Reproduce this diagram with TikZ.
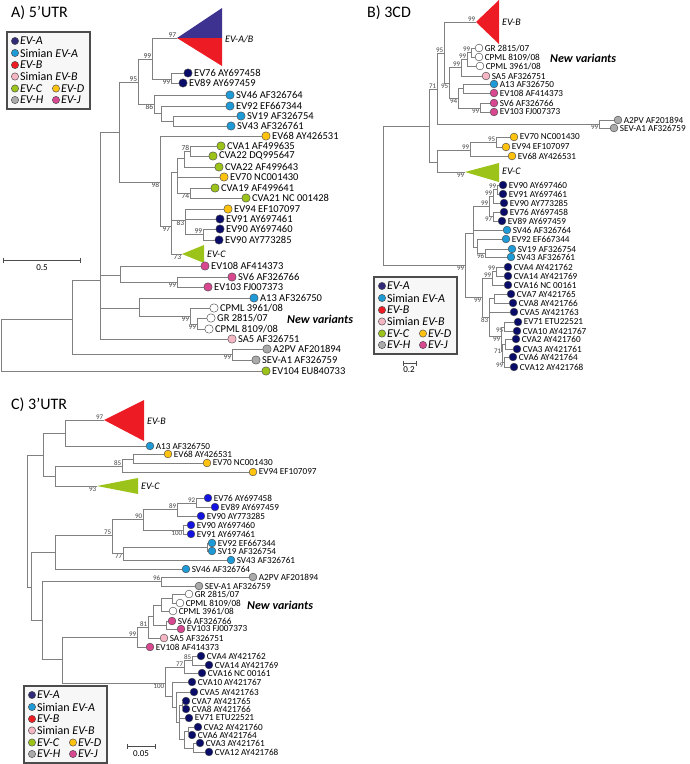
\documentclass[tikz,border=0pt]{standalone}
\usepackage{fontspec}
\setmainfont{Carlito}
\usetikzlibrary{positioning}
\definecolor{brgrey}{RGB}{128,128,128}
\definecolor{evA}{RGB}{10,12,105}
\definecolor{evAb}{RGB}{20,20,225}
\definecolor{evAleg}{RGB}{48,42,120}
\definecolor{triA}{RGB}{62,50,145}
\definecolor{sevA}{RGB}{30,155,215}
\definecolor{evB}{RGB}{237,28,36}
\definecolor{sevB}{RGB}{245,182,196}
\definecolor{evC}{RGB}{155,195,25}
\definecolor{evD}{RGB}{255,195,15}
\definecolor{evH}{RGB}{170,170,170}
\definecolor{evJ}{RGB}{215,72,145}
\tikzset{
  br/.style={draw=brgrey, line width=0.9pt},
  lfA/.style={circle, draw=black!70, line width=0.45pt, fill=#1, minimum size=8.4pt, inner sep=0pt},
  lfB/.style={circle, draw=black!70, line width=0.45pt, fill=#1, minimum size=7.8pt, inner sep=0pt},
  lbA/.style={font=\fontsize{10.5}{12}\selectfont, inner sep=1.5pt},
  lbB/.style={font=\fontsize{9.2}{11}\selectfont, inner sep=1.5pt},
  bsA/.style={font=\fontsize{7.5}{8}\selectfont, inner sep=0.6pt, text=black!75},
  bsB/.style={font=\fontsize{7}{8}\selectfont, inner sep=0.6pt, text=black!75},
  clade/.style={font=\fontsize{10}{12}\selectfont\itshape, anchor=west, inner sep=1pt},
  ttl/.style={font=\fontsize{16}{18}\selectfont, anchor=west, inner sep=0pt},
  newvar/.style={font=\fontsize{12}{14}\selectfont\bfseries\itshape, anchor=west, inner sep=0pt},
  legbox/.style={draw=black!70, fill=black!3, line width=1.1pt},
  lgc/.style={circle, draw=black!70, line width=0.45pt, fill=#1, minimum size=7.3pt, inner sep=0pt},
  lgt/.style={font=\fontsize{12}{14}\selectfont, inner sep=1pt},
  sbar/.style={draw=black!70, line width=0.8pt},
  sbtext/.style={font=\fontsize{9}{10}\selectfont, inner sep=0pt}
}
% legend box: prefix, first circle x, y
\newcommand{\drawlegend}[3]{%
  \begin{scope}[shift={(#2,#3)}]
    \draw[legbox] (-8,-9) rectangle (75,68);
    \node[lgc=evAleg, label={[lgt]right:\textit{EV-A}}] (#1a) at (0,0) {};
    \node[lgc=sevA, label={[lgt]right:Simian \textit{EV-A}}] (#1b) at (0,12) {};
    \node[lgc=evB, label={[lgt]right:\textit{EV-B}}] (#1c) at (0,24) {};
    \node[lgc=sevB, label={[lgt]right:Simian \textit{EV-B}}] (#1d) at (0,35.5) {};
    \node[lgc=evC, label={[lgt]right:\textit{EV-C}}] (#1e) at (0,47.5) {};
    \node[lgc=evD, label={[lgt]right:\textit{EV-D}}] (#1f) at (41,47.5) {};
    \node[lgc=evH, label={[lgt]right:\textit{EV-H}}] (#1g) at (0,59) {};
    \node[lgc=evJ, label={[lgt]right:\textit{EV-J}}] (#1h) at (41,59) {};
  \end{scope}}

\begin{document}
\begin{tikzpicture}[x=1pt, y=-1pt]
  \useasboundingbox (0,0) rectangle (690,764);

  % ---------------- A) 5'UTR ----------------
  \node[ttl] (tA) at (11,13) {A) 5’UTR};
  \drawlegend{lgA}{15}{41}

  % clades collapsed
  \coordinate[label={[bsA]above left:97}] (aTA) at (177,38);
  \fill[triA] (aTA) -- (222,8) -- (222,38) -- cycle;
  \fill[evB] (aTA) -- (222,38) -- (222,66) -- cycle;
  \node[clade] (aTAl) at (224,39) {EV-A/B};
  \coordinate[label={[bsA]below left:73}] (aTC) at (182,254);
  \fill[evC] (aTC) -- (204,245) -- (204,263) -- cycle;
  \node[clade] (aTCl) at (206,254) {EV-C};

  % leaves
  \node[lfA=evA, label={[lbA]right:EV76 AY697458}] (aev76) at (188,73) {};
  \node[lfA=evA, label={[lbA]right:EV89 AY697459}] (aev89) at (183,83) {};
  \node[lfA=sevA, label={[lbA]right:SV46 AF326764}] (asv46) at (230,95) {};
  \node[lfA=sevA, label={[lbA]right:EV92 EF667344}] (aev92) at (230,106) {};
  \node[lfA=sevA, label={[lbA]right:SV19 AF326754}] (asv19) at (241,116) {};
  \node[lfA=sevA, label={[lbA]right:SV43 AF326761}] (asv43) at (231,126) {};
  \node[lfA=evD, label={[lbA]right:EV68 AY426531}] (aev68) at (266,136) {};
  \node[lfA=evC, label={[lbA]right:CVA1 AF499635}] (acva1) at (221,146) {};
  \node[lfA=evC, label={[lbA]right:CVA22 DQ995647}] (acva22d) at (213,156) {};
  \node[lfA=evC, label={[lbA]right:CVA22 AF499643}] (acva22a) at (219,167) {};
  \node[lfA=evD, label={[lbA]right:EV70 NC001430}] (aev70) at (224,177) {};
  \node[lfA=evC, label={[lbA]right:CVA19 AF499641}] (acva19) at (215,188) {};
  \node[lfA=evC, label={[lbA]right:CVA21 NC 001428}] (acva21) at (246,198) {};
  \node[lfA=evD, label={[lbA]right:EV94 EF107097}] (aev94) at (228,209) {};
  \node[lfA=evA, label={[lbA]right:EV91 AY697461}] (aev91) at (220,219) {};
  \node[lfA=evA, label={[lbA]right:EV90 AY697460}] (aev90a) at (220,229) {};
  \node[lfA=evA, label={[lbA]right:EV90 AY773285}] (aev90b) at (219,240) {};
  \node[lfA=evJ, label={[lbA]right:EV108 AF414373}] (aev108) at (205,266) {};
  \node[lfA=evJ, label={[lbA]right:SV6 AF326766}] (asv6) at (232,277) {};
  \node[lfA=evJ, label={[lbA]right:EV103 FJ007373}] (aev103) at (208,287) {};
  \node[lfA=sevA, label={[lbA]right:A13 AF326750}] (aa13) at (254,298) {};
  \node[lfA=white, label={[lbA]right:CPML 3961/08}] (acp3961) at (214,308) {};
  \node[lfA=white, label={[lbA]right:GR 2815/07}] (agr) at (211,318) {};
  \node[lfA=white, label={[lbA]right:CPML 8109/08}] (acp8109) at (209,329) {};
  \node[lfA=sevB, label={[lbA]right:SA5 AF326751}] (asa5) at (232,339) {};
  \node[lfA=evH, label={[lbA]right:A2PV AF201894}] (aa2pv) at (267,349) {};
  \node[lfA=evH, label={[lbA]right:SEV-A1 AF326759}] (asev) at (256,360) {};
  \node[lfA=evC, label={[lbA]right:EV104 EU840733}] (aev104) at (266,371) {};
  \node[newvar] (anv) at (287,319) {New variants};

  % inner nodes
  \coordinate (arA) at (1,345);
  \coordinate (an1) at (72,319);
  \coordinate[label={[bsA]below left:99}] (anH) at (232,354);
  \coordinate (an2) at (100,280);
  \coordinate (an3) at (119,132);
  \coordinate[label={[bsA]above left:95}] (an4) at (138,82);
  \coordinate[label={[bsA]above left:99}] (an5) at (152,59);
  \coordinate[label={[bsA]below left:99}] (an6) at (171,79);
  \coordinate[label={[bsA]below left:86}] (anSA) at (154,104);
  \coordinate (an86) at (161,113);
  \coordinate (an86b) at (173,121);
  \coordinate[label={[bsA]below left:98}] (an98) at (160,182);
  \coordinate[label={[bsA]below left:97}] (an97) at (171,226);
  \coordinate (anCV) at (177,172);
  \coordinate (an184) at (184,158);
  \coordinate[label={[bsA]above left:78}] (an78) at (190,151);
  \coordinate[label={[bsA]below left:74}] (an74) at (190,193);
  \coordinate[label={[bsA]below left:83}] (an83) at (185,220);
  \coordinate[label={[bsA]above left:99}] (an99g) at (203,234);
  \coordinate (anJ) at (120,275);
  \coordinate[label={[bsA]below left:99}] (an99j) at (177,282);
  \coordinate (anN0) at (139,308);
  \coordinate[label={[bsA]below left:99}] (anNV) at (190,316);
  \coordinate[label={[bsA]below left:99}] (anNV2) at (197,324);

  \foreach \p/\c in {arA/an1, arA/aev104, an1/an2, an1/anH, anH/aa2pv, anH/asev,
      an2/an3, an2/anJ, an2/anN0, an2/asa5, an3/an4, an3/an98, an4/an5, an4/anSA,
      an5/aTA, an5/an6, an6/aev76, an6/aev89, anSA/asv46, anSA/an86, an86/aev92,
      an86/an86b, an86b/asv19, an86b/asv43, an98/aev68, an98/an97, an97/anCV,
      an97/an83, an97/aTC, anCV/an184, anCV/aev70, anCV/an74, an184/an78,
      an184/acva22a, an78/acva1, an78/acva22d, an74/acva19, an74/acva21,
      an83/aev94, an83/aev91, an83/an99g, an99g/aev90a, an99g/aev90b,
      anJ/aev108, anJ/an99j, an99j/asv6, an99j/aev103, anN0/aa13, anN0/anNV,
      anNV/acp3961, anNV/anNV2, anNV2/agr, anNV2/acp8109}
    \draw[br] (\p) |- (\c);

  % scale
  \coordinate (asb1) at (3,260);
  \coordinate (asb2) at (80,260);
  \draw[sbar] (asb1) -- (asb2);
  \draw[sbar] (asb1) ++(0,-2.5) -- ++(0,5);
  \draw[sbar] (asb2) ++(0,-2.5) -- ++(0,5);
  \node[sbtext] (asbt) at (42,268) {0.5};

  % ---------------- B) 3CD ----------------
  \node[ttl] (tB) at (367,13) {B) 3CD};
  \drawlegend{lgB}{382}{286}

  \coordinate[label={[bsB]above left:99}] (bTB) at (476,22);
  \fill[evB] (bTB) -- (499,0) -- (499,44) -- cycle;
  \node[clade] (bTBl) at (501,22) {EV-B};
  \coordinate[label={[bsB]below left:99}] (bTC) at (465,172);
  \fill[evC] (bTC) -- (499,163) -- (499,182) -- cycle;
  \node[clade] (bTCl) at (501,171) {EV-C};

  \node[lfB=white, label={[lbB]right:GR 2815/07}] (bgr) at (479,48) {};
  \node[lfB=white, label={[lbB]right:CPML 8109/08}] (bcp8109) at (479,57) {};
  \node[lfB=white, label={[lbB]right:CPML 3961/08}] (bcp3961) at (480,66) {};
  \node[lfB=sevB, label={[lbB]right:SA5 AF326751}] (bsa5) at (486,76) {};
  \node[lfB=sevA, label={[lbB]right:A13 AF326750}] (ba13) at (494,84) {};
  \node[lfB=evJ, label={[lbB]right:EV108 AF414373}] (bev108) at (494,93) {};
  \node[lfB=evJ, label={[lbB]right:SV6 AF326766}] (bsv6) at (494,103) {};
  \node[lfB=evJ, label={[lbB]right:EV103 FJ007373}] (bev103) at (494,112) {};
  \node[lfB=evH, label={[lbB]right:A2PV AF201894}] (ba2pv) at (618,120) {};
  \node[lfB=evH, label={[lbB]right:SEV-A1 AF326759}] (bsev) at (614,128) {};
  \node[lfB=evD, label={[lbB]right:EV70 NC001430}] (bev70) at (514,137) {};
  \node[lfB=evD, label={[lbB]right:EV94 EF107097}] (bev94) at (506,147) {};
  \node[lfB=evD, label={[lbB]right:EV68 AY426531}] (bev68) at (512,156) {};
  \node[lfB=evA, label={[lbB]right:EV90 AY697460}] (bev90a) at (503,185) {};
  \node[lfB=evA, label={[lbB]right:EV91 AY697461}] (bev91) at (503,194) {};
  \node[lfB=evA, label={[lbB]right:EV90 AY773285}] (bev90b) at (504,203) {};
  \node[lfB=evA, label={[lbB]right:EV76 AY697458}] (bev76) at (504,212) {};
  \node[lfB=evA, label={[lbB]right:EV89 AY697459}] (bev89) at (502,221) {};
  \node[lfB=sevA, label={[lbB]right:SV46 AF326764}] (bsv46) at (507,230) {};
  \node[lfB=sevA, label={[lbB]right:EV92 EF667344}] (bev92) at (506,239) {};
  \node[lfB=sevA, label={[lbB]right:SV19 AF326754}] (bsv19) at (512,249) {};
  \node[lfB=sevA, label={[lbB]right:SV43 AF326761}] (bsv43) at (511,257) {};
  \node[lfB=evA, label={[lbB]right:CVA4 AY421762}] (bcva4) at (508,267) {};
  \node[lfB=evA, label={[lbB]right:CVA14 AY421769}] (bcva14) at (508,276) {};
  \node[lfB=evA, label={[lbB]right:CVA16 NC 00161}] (bcva16) at (508,285) {};
  \node[lfB=evA, label={[lbB]right:CVA7 AY421765}] (bcva7) at (511,294) {};
  \node[lfB=evA, label={[lbB]right:CVA8 AY421766}] (bcva8) at (513,303) {};
  \node[lfB=evA, label={[lbB]right:CVA5 AY421763}] (bcva5) at (514,312) {};
  \node[lfB=evA, label={[lbB]right:EV71 ETU22521}] (bev71) at (518,322) {};
  \node[lfB=evA, label={[lbB]right:CVA10 AY421767}] (bcva10) at (517,331) {};
  \node[lfB=evA, label={[lbB]right:CVA2 AY421760}] (bcva2) at (516,339) {};
  \node[lfB=evA, label={[lbB]right:CVA3 AY421761}] (bcva3) at (517,349) {};
  \node[lfB=evA, label={[lbB]right:CVA6 AY421764}] (bcva6) at (513,357) {};
  \node[lfB=evA, label={[lbB]right:CVA12 AY421768}] (bcva12) at (514,367) {};
  \node[newvar] (bnv) at (550,58) {New variants};

  \coordinate (brB) at (383,200);
  \coordinate (bnA) at (429,126);
  \coordinate[label={[bsB]above left:71}] (bn71) at (437,89);
  \coordinate[label={[bsB]below left:99}] (bnHB) at (599,124);
  \coordinate[label={[bsB]above left:95}] (bn95a) at (444,53);
  \coordinate[label={[bsB]below left:95}] (bn95b) at (449,83);
  \coordinate[label={[bsB]above left:99}] (bnNV99) at (461,67);
  \coordinate[label={[bsB]above left:99}] (bnNVa) at (467,59);
  \coordinate[label={[bsB]above left:99}] (bnGR) at (471,52);
  \coordinate[label={[bsB]below left:94}] (bn94) at (458,98);
  \coordinate (bnA13) at (463,88);
  \coordinate[label={[bsB]below left:99}] (bn99J) at (480,108);
  \coordinate (bnCD) at (437,162);
  \coordinate[label={[bsB]above left:99}] (bnD) at (470,150);
  \coordinate[label={[bsB]above left:95}] (bnD95) at (496,142);
  \coordinate[label={[bsB]below left:99}] (bnEVA) at (465,265);
  \coordinate (bnS) at (473,233);
  \coordinate[label={[bsB]above left:99}] (bnEV) at (489,206);
  \coordinate[label={[bsB]above left:99}] (bn99c) at (493,196);
  \coordinate[label={[bsB]above left:99}] (bn99b) at (497,189);
  \coordinate[label={[bsB]below left:97}] (bn97) at (493,216);
  \coordinate (bnSV) at (477,247);
  \coordinate[label={[bsB]below left:96}] (bn96) at (485,253);
  \coordinate[label={[bsB]below left:99}] (bnCVA) at (482,297);
  \coordinate[label={[bsB]above left:99}] (bn99x) at (492,278);
  \coordinate[label={[bsB]above left:99}] (bn99y) at (496,271);
  \coordinate[label={[bsB]below left:83}] (bn83) at (489,317);
  \coordinate (bnC78) at (494,298);
  \coordinate[label={[bsB]below left:99}] (bnrest) at (501,336);
  \coordinate[label={[bsB]below left:95}] (bn95r) at (504,327);
  \coordinate[label={[bsB]left:71}] (bn71r) at (502,351);
  \coordinate (bn71a) at (505,344);
  \coordinate[label={[bsB]below left:99}] (bn99s) at (504,362);

  \foreach \p/\c in {brB/bnA, brB/bnEVA, bnA/bn71, bnA/bnCD, bn71/bn95a, bn71/bnHB,
      bnHB/ba2pv, bnHB/bsev, bn95a/bTB, bn95a/bn95b, bn95b/bnNV99, bn95b/bn94,
      bnNV99/bnNVa, bnNV99/bsa5, bnNVa/bnGR, bnNVa/bcp3961, bnGR/bgr, bnGR/bcp8109,
      bn94/bnA13, bn94/bn99J, bnA13/ba13, bnA13/bev108, bn99J/bsv6, bn99J/bev103,
      bnCD/bnD, bnCD/bTC, bnD/bnD95, bnD/bev68, bnD95/bev70, bnD95/bev94,
      bnEVA/bnS, bnEVA/bnCVA, bnS/bnEV, bnS/bsv46, bnS/bnSV, bnEV/bn99c, bnEV/bn97,
      bn99c/bn99b, bn99c/bev90b, bn99b/bev90a, bn99b/bev91, bn97/bev76, bn97/bev89,
      bnSV/bev92, bnSV/bn96, bn96/bsv19, bn96/bsv43, bnCVA/bn99x, bnCVA/bn83,
      bn99x/bn99y, bn99x/bcva16, bn99y/bcva4, bn99y/bcva14, bn83/bnC78, bn83/bcva5,
      bn83/bnrest, bnC78/bcva7, bnC78/bcva8, bnrest/bn95r, bnrest/bn71r,
      bn95r/bev71, bn95r/bcva10, bn71r/bn71a, bn71r/bn99s, bn71a/bcva2,
      bn71a/bcva3, bn99s/bcva6, bn99s/bcva12}
    \draw[br] (\p) |- (\c);

  \coordinate (bsb1) at (403,363);
  \coordinate (bsb2) at (416,363);
  \draw[sbar] (bsb1) -- (bsb2);
  \draw[sbar] (bsb1) ++(0,-2.5) -- ++(0,5);
  \draw[sbar] (bsb2) ++(0,-2.5) -- ++(0,5);
  \node[sbtext] (bsbt) at (409,370) {0.2};

  % ---------------- C) 3'UTR ----------------
  \node[ttl] (tC) at (11,405) {C) 3’UTR};
  \drawlegend{lgC}{32}{695}

  \coordinate[label={[bsB]above left:97}] (cTB) at (104,420);
  \fill[evB] (cTB) -- (144,400) -- (144,441) -- cycle;
  \node[clade] (cTBl) at (146,421) {EV-B};
  \coordinate[label={[bsB]below left:93}] (cTC) at (97,486);
  \fill[evC] (cTC) -- (138,478) -- (138,494) -- cycle;
  \node[clade] (cTCl) at (140,486) {EV-C};

  \node[lfB=sevA, label={[lbB]right:A13 AF326750}] (ca13) at (150,446) {};
  \node[lfB=evD, label={[lbB]right:EV68 AY426531}] (cev68) at (168,454) {};
  \node[lfB=evD, label={[lbB]right:EV70 NC001430}] (cev70) at (207,463) {};
  \node[lfB=evD, label={[lbB]right:EV94 EF107097}] (cev94) at (253,472) {};
  \node[lfB=evAb, label={[lbB]right:EV76 AY697458}] (cev76) at (208,498) {};
  \node[lfB=evAb, label={[lbB]right:EV89 AY697459}] (cev89) at (215,507) {};
  \node[lfB=evAb, label={[lbB]right:EV90 AY773285}] (cev90b) at (201,516) {};
  \node[lfB=evAb, label={[lbB]right:EV90 AY697460}] (cev90a) at (191,525) {};
  \node[lfB=evAb, label={[lbB]right:EV91 AY697461}] (cev91) at (191,534) {};
  \node[lfB=sevA, label={[lbB]right:EV92 EF667344}] (cev92) at (212,543) {};
  \node[lfB=sevA, label={[lbB]right:SV19 AF326754}] (csv19) at (212,551) {};
  \node[lfB=sevA, label={[lbB]right:SV43 AF326761}] (csv43) at (231,560) {};
  \node[lfB=sevA, label={[lbB]right:SV46 AF326764}] (csv46) at (186,569) {};
  \node[lfB=evH, label={[lbB]right:A2PV AF201894}] (ca2pv) at (253,577) {};
  \node[lfB=evH, label={[lbB]right:SEV-A1 AF326759}] (csev) at (199,586) {};
  \node[lfB=white, label={[lbB]right:GR 2815/07}] (cgr) at (189,594) {};
  \node[lfB=white, label={[lbB]right:CPML 8109/08}] (ccp8109) at (180,603) {};
  \node[lfB=white, label={[lbB]right:CPML 3961/08}] (ccp3961) at (173,611) {};
  \node[lfB=evJ, label={[lbB]right:SV6 AF326766}] (csv6) at (172,621) {};
  \node[lfB=evJ, label={[lbB]right:EV103 FJ007373}] (cev103) at (181,629) {};
  \node[lfB=sevB, label={[lbB]right:SA5 AF326751}] (csa5) at (164,638) {};
  \node[lfB=evJ, label={[lbB]right:EV108 AF414373}] (cev108) at (150,647) {};
  \node[lfB=evA, label={[lbB]right:CVA4 AY421762}] (ccva4) at (201,656) {};
  \node[lfB=evA, label={[lbB]right:CVA14 AY421769}] (ccva14) at (209,665) {};
  \node[lfB=evA, label={[lbB]right:CVA16 NC 00161}] (ccva16) at (202,673) {};
  \node[lfB=evA, label={[lbB]right:CVA10 AY421767}] (ccva10) at (192,682) {};
  \node[lfB=evA, label={[lbB]right:CVA5 AY421763}] (ccva5) at (194,692) {};
  \node[lfB=evA, label={[lbB]right:CVA7 AY421765}] (ccva7) at (186,701) {};
  \node[lfB=evA, label={[lbB]right:CVA8 AY421766}] (ccva8) at (186,709) {};
  \node[lfB=evA, label={[lbB]right:EV71 ETU22521}] (cev71) at (189,718) {};
  \node[lfB=evA, label={[lbB]right:CVA2 AY421760}] (ccva2) at (198,727) {};
  \node[lfB=evA, label={[lbB]right:CVA6 AY421764}] (ccva6) at (192,735) {};
  \node[lfB=evA, label={[lbB]right:CVA3 AY421761}] (ccva3) at (200,743) {};
  \node[lfB=evA, label={[lbB]right:CVA12 AY421768}] (ccva12) at (209,752) {};
  \node[newvar] (cnv) at (247,605) {New variants};

  \coordinate (crC) at (27,520);
  \coordinate (cnTop) at (43,455);
  \coordinate (cnB) at (65,433);
  \coordinate (cnCD) at (55,476);
  \coordinate[label={[bsB]above left:85}] (cnD) at (122,466);
  \coordinate (cnD2) at (133,459);
  \coordinate (cnBot) at (31,587);
  \coordinate (cnSA) at (55,552);
  \coordinate[label={[bsB]above left:75}] (cn75) at (112,535);
  \coordinate[label={[bsB]above left:90}] (cn90) at (143,519);
  \coordinate[label={[bsB]above left:89}] (cn89) at (177,509);
  \coordinate[label={[bsB]above left:92}] (cn92) at (196,503);
  \coordinate[label={[bsB]below left:100}] (cn100) at (183,530);
  \coordinate[label={[bsB]below left:77}] (cn77) at (123,553);
  \coordinate (cnES) at (207,547);
  \coordinate (cnLow) at (42,620);
  \coordinate[label={[bsB]above left:96}] (cnH) at (161,581);
  \coordinate (cnEA) at (62,659);
  \coordinate[label={[bsB]above left:99}] (cn99) at (137,637);
  \coordinate[label={[bsB]above left:81}] (cn81) at (148,627);
  \coordinate (cnNVg) at (153,616);
  \coordinate (cnNV) at (161,605);
  \coordinate (cnGC) at (172,598);
  \coordinate (cnSV6) at (166,625);
  \coordinate[label={[bsB]below left:100}] (cn100c) at (165,683);
  \coordinate[label={[bsB]above left:77}] (cn77c) at (184,667);
  \coordinate[label={[bsB]above left:85}] (cn85) at (192,660);
  \coordinate (cnR) at (172,696);
  \coordinate (cnR2) at (176,707);
  \coordinate (cnR3) at (179,722);
  \coordinate (cnR4) at (182,705);
  \coordinate (cnR5) at (184,739);
  \coordinate (cnR6) at (188,731);
  \coordinate (cnR7) at (193,748);

  \foreach \p/\c in {crC/cnTop, crC/cnBot, cnTop/cnB, cnTop/cnCD, cnB/cTB, cnB/ca13,
      cnCD/cnD, cnCD/cTC, cnD/cnD2, cnD/cev94, cnD2/cev68, cnD2/cev70,
      cnBot/cnSA, cnBot/cnLow, cnSA/cn75, cnSA/csv46, cn75/cn90, cn75/cn77,
      cn90/cn89, cn90/cn100, cn89/cn92, cn89/cev90b, cn92/cev76, cn92/cev89,
      cn100/cev90a, cn100/cev91, cn77/cnES, cn77/csv43, cnES/cev92, cnES/csv19,
      cnLow/cnH, cnLow/cnEA, cnH/ca2pv, cnH/csev, cnEA/cn99, cnEA/cn100c,
      cn99/cn81, cn99/cev108, cn81/cnNVg, cn81/csa5, cnNVg/cnNV, cnNVg/cnSV6,
      cnNV/cnGC, cnNV/ccp3961, cnGC/cgr, cnGC/ccp8109, cnSV6/csv6, cnSV6/cev103,
      cn100c/cn77c, cn100c/cnR, cn77c/cn85, cn77c/ccva16, cn85/ccva4, cn85/ccva14,
      cnR/ccva10, cnR/cnR2, cnR2/ccva5, cnR2/cnR3, cnR3/cnR4, cnR3/cev71,
      cnR3/cnR5, cnR4/ccva7, cnR4/ccva8, cnR5/cnR6, cnR5/cnR7, cnR6/ccva2,
      cnR6/ccva6, cnR7/ccva3, cnR7/ccva12}
    \draw[br] (\p) |- (\c);

  \coordinate (csb1) at (127,746);
  \coordinate (csb2) at (155,746);
  \draw[sbar] (csb1) -- (csb2);
  \draw[sbar] (csb1) ++(0,-2.5) -- ++(0,5);
  \draw[sbar] (csb2) ++(0,-2.5) -- ++(0,5);
  \node[sbtext] (csbt) at (141,754) {0.05};
\end{tikzpicture}
\end{document}
